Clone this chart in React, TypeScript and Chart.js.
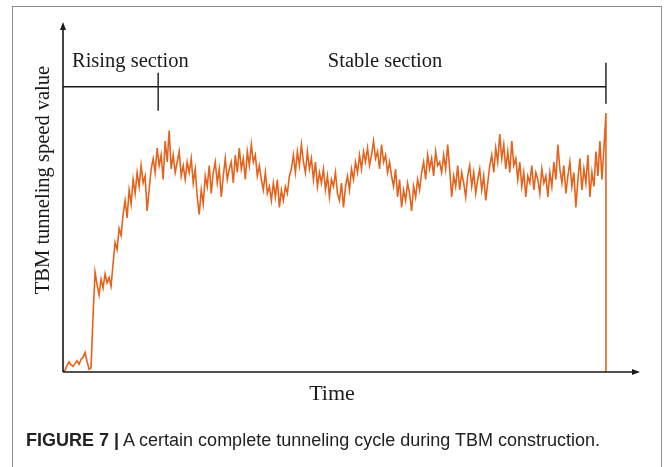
import React, { useEffect, useRef } from 'react';
import { Chart, registerables } from 'chart.js';

Chart.register(...registerables);

// Tunneling speed samples over one cycle (relative units, 0–100)
const speed = [
  0.2, 0.4, 1.8, 2.9, 2.0, 1.6, 2.4, 3.2, 2.2, 3.6, 4.2, 5.6, 3.0, 0.8, 1.2, 16, 28.5,
  25, 22, 26.5, 24, 28, 25.5, 27, 24.5,
  31, 37, 35, 41, 39,
  45, 49, 44, 52, 48, 55,
  51, 57, 53, 59, 54, 56, 46, 52,
  58, 61, 57, 64, 59, 62, 55, 66, 60, 69, 58, 62, 57, 60,
  63, 56, 59, 55, 60, 57, 61, 54, 58, 50, 45, 52, 48,
  56, 53, 59, 51, 57, 60, 54, 58, 50, 56, 61, 55, 58,
  60, 54, 62, 57, 64, 58, 61, 55, 63, 59, 65, 60, 62, 56, 59,
  55, 52, 57, 51, 53, 49, 54, 50, 55, 47, 52, 49, 53, 51, 56,
  58, 62, 57, 63, 59, 65, 60, 57, 63, 58, 61, 55, 60, 53, 57,
  54, 58, 52, 56, 50, 55, 53, 57, 51, 49, 54, 47, 53, 56, 52, 58,
  55, 60, 57, 62, 58, 63, 60, 64, 59, 62, 66, 61, 63, 58, 65, 60, 62, 57, 60,
  56, 53, 58, 50, 55, 47, 52, 49, 54, 51, 46, 53, 50, 55, 52,
  57, 60, 55, 62, 58, 61, 56, 63, 59, 60, 57, 62, 58, 65,
  58, 50, 56, 53, 59, 52, 57, 54, 50, 56, 59, 53, 57, 51, 55, 58, 52, 56, 49, 54,
  59, 62, 57, 64, 60, 68, 61, 65, 58, 63, 57, 66, 59, 61, 55, 60,
  53, 57, 50, 56, 54, 59, 52, 57, 55, 51, 58, 54, 56, 50, 57, 53, 60, 55, 65, 58,
  54, 59, 51, 56, 60, 53, 57, 47, 55, 61, 52, 58, 54, 62, 50, 57, 53, 63, 56, 66, 55, 64, 74,
];

// Section boundaries (sample index) and their names
const sectionNames = ['Rising section', 'Stable section'];
const sectionEnds = [47.5, 271];
const bracketLevel = 81.5;

const xTitle = 'Time';
const yTitle = 'TBM tunneling speed value';
const captionLabel = 'FIGURE 7 |';
const captionText = 'A certain complete tunneling cycle during TBM construction.';

const SERIF = '"Liberation Serif", "Times New Roman", serif';
const INK = '#1a1a1a';

export default function App() {
  const ref = useRef<HTMLCanvasElement>(null);

  useEffect(() => {
    if (!ref.current) return;
    const last = speed.length - 1;
    const points = speed.map((v, i) => ({ x: i, y: v }));
    // machine stops at the end of the cycle
    points.push({ x: last, y: 0 });

    const decor = {
      id: 'decor',
      afterDatasetsDraw(chart: any) {
        const { ctx, chartArea: a, scales } = chart;
        const xs = scales.x;
        const ys = scales.y;
        ctx.save();
        ctx.strokeStyle = INK;
        ctx.fillStyle = INK;
        ctx.lineWidth = 1.6;

        // axes with arrowheads
        ctx.beginPath();
        ctx.moveTo(a.left, a.bottom);
        ctx.lineTo(a.left, a.top + 6);
        ctx.moveTo(a.left, a.bottom);
        ctx.lineTo(a.right - 6, a.bottom);
        ctx.stroke();
        ctx.beginPath();
        ctx.moveTo(a.left, a.top);
        ctx.lineTo(a.left - 3, a.top + 8);
        ctx.lineTo(a.left + 3, a.top + 8);
        ctx.closePath();
        ctx.fill();
        ctx.beginPath();
        ctx.moveTo(a.right, a.bottom);
        ctx.lineTo(a.right - 8, a.bottom - 3);
        ctx.lineTo(a.right - 8, a.bottom + 3);
        ctx.closePath();
        ctx.fill();

        // section bracket
        const by = ys.getPixelForValue(bracketLevel);
        const xEnd = xs.getPixelForValue(sectionEnds[1]);
        const xMid = xs.getPixelForValue(sectionEnds[0]);
        ctx.lineWidth = 1.4;
        ctx.beginPath();
        ctx.moveTo(a.left, by);
        ctx.lineTo(xEnd, by);
        ctx.moveTo(xMid, by - 14);
        ctx.lineTo(xMid, by + 24);
        ctx.moveTo(xEnd, by - 24);
        ctx.lineTo(xEnd, by + 17);
        ctx.stroke();

        // section names
        ctx.font = `20.5px ${SERIF}`;
        ctx.textBaseline = 'alphabetic';
        ctx.textAlign = 'left';
        ctx.fillText(sectionNames[0], a.left + 9, by - 20);
        ctx.textAlign = 'center';
        ctx.fillText(sectionNames[1], (xMid + xEnd) / 2 + 3, by - 20);

        // axis titles
        ctx.textAlign = 'center';
        ctx.textBaseline = 'middle';
        ctx.font = `22px ${SERIF}`;
        ctx.fillText(xTitle, a.left + 269, a.bottom + 22);
        ctx.font = `20.5px ${SERIF}`;
        ctx.translate(a.left - 19, a.top + 158);
        ctx.rotate(-Math.PI / 2);
        ctx.fillText(yTitle, 0, 0);
        ctx.restore();
      },
    };

    const chart = new Chart(ref.current, {
      type: 'line',
      data: {
        datasets: [
          {
            data: points,
            borderColor: '#e5621b',
            borderWidth: 1.6,
            pointRadius: 0,
            tension: 0,
            fill: false,
          },
        ],
      },
      options: {
        animation: false,
        responsive: false,
        maintainAspectRatio: false,
        layout: { padding: { left: 63, top: 22, right: 25, bottom: 95 } },
        plugins: { legend: { display: false }, tooltip: { enabled: false } },
        scales: {
          x: { type: 'linear', display: false, min: 0, max: 288 },
          y: { display: false, min: 0, max: 100 },
        },
      },
      plugins: [decor],
    });
    return () => chart.destroy();
  }, []);

  return (
    <div
      style={{
        position: 'fixed',
        left: 0,
        top: 0,
        width: 665,
        height: 467,
        background: '#fff',
        overflow: 'hidden',
      }}
    >
      <div
        style={{
          position: 'absolute',
          left: 12,
          top: 6,
          width: 648,
          height: 480,
          borderLeft: '1.5px solid #8c8c8c',
          borderTop: '1.5px solid #8c8c8c',
          borderRight: '1.5px solid #8c8c8c',
        }}
      />
      <canvas
        ref={ref}
        width={665}
        height={467}
        style={{ position: 'absolute', left: 0, top: 0, width: 665, height: 467 }}
      />
      <div
        style={{
          position: 'absolute',
          left: 26,
          top: 431,
          fontFamily: '"Liberation Sans Narrow", "Liberation Sans", Arial, sans-serif',
          fontSize: 18,
          lineHeight: '18px',
          color: '#222',
          whiteSpace: 'nowrap',
        }}
      >
        <b>{captionLabel}</b> {captionText}
      </div>
    </div>
  );
}
